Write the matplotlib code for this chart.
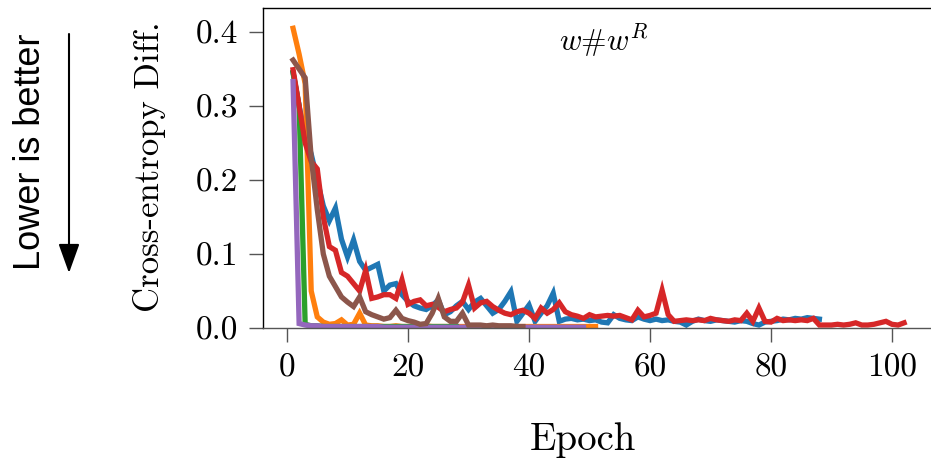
import matplotlib
matplotlib.use("Agg")
import matplotlib.pyplot as plt
import numpy as np

plt.rcParams["font.family"] = "serif"
plt.rcParams["font.serif"] = ["cmr10", "DejaVu Serif"]
plt.rcParams["mathtext.fontset"] = "cm"
plt.rcParams["axes.formatter.use_mathtext"] = True
plt.rcParams["axes.unicode_minus"] = False

# Cross-entropy difference per epoch for six training runs
run_blue = [0.345, 0.30, 0.26, 0.235, 0.20, 0.165, 0.145, 0.162, 0.12, 0.096,
            0.119, 0.09, 0.078, 0.082, 0.086, 0.05, 0.058, 0.06, 0.045, 0.036,
            0.03, 0.027, 0.025, 0.03, 0.038, 0.018, 0.022, 0.03, 0.036, 0.025,
            0.035, 0.040, 0.03, 0.02, 0.025, 0.036, 0.049, 0.009, 0.02, 0.031,
            0.009, 0.02, 0.03, 0.047, 0.009, 0.012, 0.013, 0.011, 0.012, 0.01,
            0.011, 0.008, 0.007, 0.018, 0.013, 0.011, 0.01, 0.015, 0.012, 0.01,
            0.012, 0.01, 0.011, 0.009, 0.008, 0.004, 0.009, 0.012, 0.01, 0.009,
            0.011, 0.01, 0.009, 0.008, 0.01, 0.009, 0.006, 0.004, 0.008, 0.009,
            0.01, 0.012, 0.011, 0.013, 0.012, 0.014, 0.013, 0.012]
run_orange = [0.405, 0.37, 0.33, 0.05, 0.015, 0.008, 0.005, 0.006, 0.011, 0.004,
              0.005, 0.02, 0.004, 0.003, 0.003, 0.002, 0.002, 0.003, 0.002, 0.002,
              0.002, 0.002, 0.003, 0.002, 0.002, 0.002, 0.002, 0.002, 0.002, 0.002,
              0.002, 0.002, 0.002, 0.002, 0.002, 0.002, 0.002, 0.002, 0.002, 0.002,
              0.002, 0.002, 0.002, 0.002, 0.002, 0.002, 0.002, 0.002, 0.002, 0.002,
              0.002]
run_green = [0.345, 0.30, 0.005, 0.003, 0.003, 0.002, 0.002, 0.002, 0.002, 0.002,
             0.002, 0.002, 0.002, 0.002, 0.002, 0.002, 0.002, 0.002, 0.002, 0.002,
             0.002, 0.002, 0.002, 0.002, 0.002, 0.002, 0.002, 0.002]
run_red = [0.349, 0.30, 0.25, 0.225, 0.215, 0.15, 0.11, 0.105, 0.075, 0.07,
           0.06, 0.05, 0.078, 0.04, 0.042, 0.045, 0.045, 0.04, 0.065, 0.032,
           0.036, 0.038, 0.03, 0.032, 0.028, 0.022, 0.025, 0.027, 0.035, 0.058,
           0.027, 0.034, 0.036, 0.029, 0.024, 0.02, 0.018, 0.022, 0.024, 0.02,
           0.013, 0.027, 0.02, 0.025, 0.034, 0.022, 0.018, 0.016, 0.013, 0.018,
           0.015, 0.016, 0.017, 0.016, 0.017, 0.014, 0.011, 0.024, 0.015, 0.017,
           0.02, 0.051, 0.018, 0.009, 0.01, 0.011, 0.01, 0.011, 0.01, 0.013,
           0.011, 0.01, 0.009, 0.011, 0.01, 0.02, 0.009, 0.027, 0.009, 0.008,
           0.013, 0.01, 0.011, 0.01, 0.011, 0.01, 0.013, 0.004, 0.004, 0.004,
           0.005, 0.004, 0.005, 0.007, 0.004, 0.004, 0.005, 0.007, 0.009, 0.005,
           0.004, 0.007]
run_purple = [0.333, 0.006, 0.004, 0.003, 0.003, 0.002, 0.002, 0.002, 0.002, 0.002,
              0.002, 0.002, 0.002, 0.002, 0.002, 0.001, 0.001, 0.001, 0.001, 0.001,
              0.001, 0.001, 0.001, 0.001, 0.001, 0.001, 0.001, 0.001, 0.001, 0.001,
              0.001, 0.001, 0.001, 0.001, 0.001, 0.001, 0.001, 0.001, 0.001, 0.001,
              0.001, 0.001, 0.001, 0.001, 0.001, 0.001, 0.001, 0.001, 0.001]
run_brown = [0.362, 0.35, 0.338, 0.23, 0.16, 0.10, 0.07, 0.056, 0.042, 0.035,
             0.029, 0.042, 0.022, 0.018, 0.015, 0.012, 0.014, 0.024, 0.013, 0.01,
             0.008, 0.005, 0.006, 0.02, 0.04, 0.015, 0.009, 0.009, 0.02, 0.004,
             0.004, 0.004, 0.003, 0.004, 0.003, 0.003, 0.003, 0.002, 0.002]

runs = [run_blue, run_orange, run_green, run_red, run_purple, run_brown]
colors = ["#1f77b4", "#ff7f0e", "#2ca02c", "#d62728", "#9467bd", "#8c564b"]

x_ticks = [0, 20, 40, 60, 80, 100]
y_ticks = [0.0, 0.1, 0.2, 0.3, 0.4]
y_tick_labels = ["0.0", "0.1", "0.2", "0.3", "0.4"]

W, H = 931, 467
fig = plt.figure(figsize=(W / 100, H / 100), dpi=100)
ax = fig.add_axes([263 / W, (H - 328) / H, (945 - 263) / W, 320 / H])

for vals, c in zip(runs, colors):
    epochs = np.arange(1, len(vals) + 1)
    ax.plot(epochs, vals, color=c, lw=3.8, solid_joinstyle="miter")

ax.set_xlim(-3.97, (945 - 287) / 6.05)
ax.set_ylim(0.0, 0.4324)
ax.set_xticks(x_ticks)
ax.set_xticklabels([str(t) for t in x_ticks])
ax.set_yticks(y_ticks)
ax.set_yticklabels(y_tick_labels)
ax.tick_params(axis="both", direction="out", length=10, width=1.0,
               labelsize=24, color="#555555")
ax.tick_params(axis="x", pad=8)
ax.tick_params(axis="y", pad=8)
for side in ["left", "top", "right", "bottom"]:
    ax.spines[side].set_linewidth(1.0)
ax.spines["bottom"].set_color("#555555")

ax.text(0.5, 0.9, r"$w$#$w^R$", transform=ax.transAxes, ha="center",
        va="center", fontsize=22)

fig.text(150 / W, 1 - 167 / H, "Cross-entropy Diff.", rotation=90,
         ha="center", va="center", fontsize=25)
fig.text(583 / W, 1 - 440 / H, "Epoch", ha="center", va="center", fontsize=28)

fig.text(30 / W, 1 - 152 / H, "Lower is better", rotation=90, ha="center",
         va="center", fontsize=26, family=["Liberation Sans", "DejaVu Sans"])
ax.annotate("", xy=(69, H - 273), xytext=(69, H - 34),
            xycoords="figure pixels", textcoords="figure pixels",
            arrowprops=dict(arrowstyle="-|>,head_length=1.0,head_width=0.36",
                            mutation_scale=18, lw=1.5, color="black",
                            shrinkA=0, shrinkB=0),
            annotation_clip=False)

fig.savefig("out.png", dpi=100)
